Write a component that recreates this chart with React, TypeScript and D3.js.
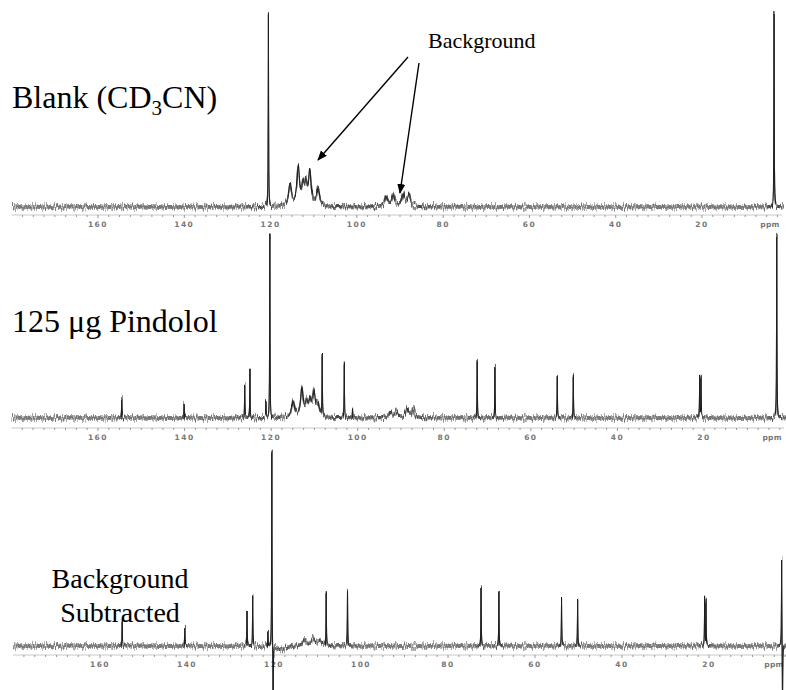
import { useEffect, useRef } from 'react';
import * as d3 from 'd3';

// [ppm, intensity, half width in ppm]
type Peak = [number, number, number];

const ppmLabels = [160, 140, 120, 100, 80, 60, 40, 20];

// Blank (CD3CN): solvent lines plus the probe background humps
const blankPeaks: Peak[] = [
    [120.5, 193, 0.05],
    [3.3, 193, 0.05],
    [115.5, 21, 0.4],
    [113.6, 38, 0.35],
    [112.5, 18, 0.35],
    [111.8, 19, 0.35],
    [110.9, 33, 0.35],
    [109.0, 18, 0.4],
    [93.2, 10, 0.4],
    [91.6, 12, 0.4],
    [89.3, 13, 0.4],
    [87.9, 12, 0.4],
];

// 125 ug Pindolol in CD3CN
const pindololPeaks: Peak[] = [
    [154.5, 19, 0.05],
    [140.1, 14, 0.05],
    [126.1, 32, 0.05],
    [124.9, 48, 0.05],
    [121.2, 14, 0.05],
    [120.3, 183, 0.05],
    [114.9, 16, 0.4],
    [112.9, 28, 0.35],
    [111.8, 13, 0.35],
    [111.0, 15, 0.35],
    [110.1, 23, 0.35],
    [109.2, 12, 0.4],
    [108.2, 60, 0.05],
    [103.1, 53, 0.05],
    [101.2, 9, 0.05],
    [92.4, 6, 0.4],
    [91.0, 6, 0.4],
    [88.6, 9, 0.4],
    [87.2, 9, 0.4],
    [72.4, 57, 0.05],
    [68.3, 50, 0.05],
    [53.9, 40, 0.05],
    [50.2, 42, 0.05],
    [21.0, 41, 0.05],
    [20.7, 38, 0.05],
    [3.2, 183, 0.05],
];

// Pindolol minus blank
const subtractedPeaks: Peak[] = [
    [154.9, 25, 0.05],
    [140.5, 18, 0.05],
    [126.2, 34, 0.05],
    [124.9, 49, 0.05],
    [121.4, 15, 0.05],
    [120.5, 198, 0.05],
    [120.2, -70, 0.05],
    [118.3, -4, 1.2],
    [113.0, 6, 0.5],
    [111.0, 7, 0.5],
    [109.5, 5, 0.5],
    [108.0, 53, 0.05],
    [103.1, 56, 0.05],
    [72.4, 58, 0.05],
    [68.3, 54, 0.05],
    [53.9, 46, 0.05],
    [50.2, 46, 0.05],
    [21.0, 47, 0.05],
    [20.7, 44, 0.05],
    [3.3, 90, 0.05],
    [3.1, -70, 0.05],
];

interface Panel {
    peaks: Peak[];
    xRange: [number, number]; // pixel position of 180 ppm and 0 ppm
    baseline: number;
    axisY: number;
    unitAt: number;
}

const panels: Panel[] = [
    { peaks: blankPeaks, xRange: [11.7, 788.3], baseline: 207, axisY: 215, unitAt: 6.5 },
    { peaks: pindololPeaks, xRange: [11.4, 790.6], baseline: 418, axisY: 428, unitAt: 6.5 },
    { peaks: subtractedPeaks, xRange: [13, 796], baseline: 646, axisY: 655, unitAt: 7.3 },
];

const serif = '"Liberation Serif", "Times New Roman", serif';
const noiseSeeds = [7, 23];

const App = () => {
    const svgRef = useRef<SVGSVGElement>(null);

    useEffect(() => {
        if (!svgRef.current) return;
        const svg = d3.select(svgRef.current);
        svg.selectAll('*').remove();

        const width = 786;
        const height = 690;
        svg.attr('width', width).attr('height', height);

        const defs = svg.append('defs');

        // jitter filters for the noisy baseline look
        noiseSeeds.forEach((seed, k) => {
            const filter = defs.append('filter')
                .attr('id', `noise${k}`)
                .attr('filterUnits', 'userSpaceOnUse')
                .attr('x', 0).attr('y', 0)
                .attr('width', width).attr('height', height)
                .attr('color-interpolation-filters', 'sRGB');
            filter.append('feTurbulence')
                .attr('type', 'fractalNoise')
                .attr('baseFrequency', '0.9 0')
                .attr('numOctaves', 2)
                .attr('seed', seed)
                .attr('result', 'turb');
            filter.append('feColorMatrix')
                .attr('in', 'turb')
                .attr('type', 'matrix')
                .attr('values', '0 0 0 0 0.5  0 1 0 0 0  0 0 0 0 0  0 0 0 0 1')
                .attr('result', 'map');
            filter.append('feDisplacementMap')
                .attr('in', 'SourceGraphic')
                .attr('in2', 'map')
                .attr('scale', 13)
                .attr('xChannelSelector', 'R')
                .attr('yChannelSelector', 'G')
                .attr('result', 'moved');
            filter.append('feMorphology')
                .attr('in', 'moved')
                .attr('operator', 'dilate')
                .attr('radius', '0 1');
        });

        defs.append('marker')
            .attr('id', 'arrow')
            .attr('viewBox', '0 0 10 10')
            .attr('refX', 9)
            .attr('refY', 5)
            .attr('markerWidth', 10)
            .attr('markerHeight', 10)
            .attr('markerUnits', 'userSpaceOnUse')
            .attr('orient', 'auto')
            .append('path')
            .attr('d', 'M0,1 L10,5 L0,9 Z')
            .attr('fill', '#000');

        panels.forEach((panel, i) => {
            const x = d3.scaleLinear().domain([180, 0]).range(panel.xRange);
            const y = d3.scaleLinear().domain([0, 200]).range([panel.baseline, panel.baseline - 200]);

            const g = svg.append('g').attr('class', `panel-${i}`);

            // axis line and ticks
            g.append('line')
                .attr('x1', x(180)).attr('x2', x(1.5))
                .attr('y1', panel.axisY).attr('y2', panel.axisY)
                .attr('stroke', '#c8c8c8')
                .attr('stroke-width', 1);

            g.selectAll('.minor')
                .data(d3.range(2.5, 180, 2.5))
                .join('line')
                .attr('x1', d => x(d)).attr('x2', d => x(d))
                .attr('y1', panel.axisY)
                .attr('y2', d => panel.axisY + (d % 20 === 0 ? 3 : 2))
                .attr('stroke', '#999')
                .attr('stroke-width', 1);

            g.selectAll('.label')
                .data(ppmLabels)
                .join('text')
                .attr('x', d => x(d))
                .attr('y', panel.axisY + 12)
                .attr('text-anchor', 'middle')
                .attr('font-family', 'DejaVu Sans')
                .attr('font-size', 7.5)
                .attr('font-weight', 'bold')
                .attr('letter-spacing', 1.5)
                .attr('fill', '#777')
                .text(d => String(d));

            g.append('text')
                .attr('x', x(panel.unitAt))
                .attr('y', panel.axisY + 12)
                .attr('font-family', 'DejaVu Sans')
                .attr('font-size', 7.5)
                .attr('font-weight', 'bold')
                .attr('letter-spacing', 0.3)
                .attr('fill', '#777')
                .text('ppm');

            // spectrum: Lorentzian lines at the listed shifts
            const grid = d3.range(1, 180, 0.05).concat(panel.peaks.map(p => p[0]));
            grid.sort((a, b) => b - a);
            const spectrum = grid.map(ppm => {
                const v = d3.sum(panel.peaks, ([c, h, w]) => (h * w * w) / ((ppm - c) * (ppm - c) + w * w));
                return [ppm, v] as [number, number];
            });

            const line = d3.line<[number, number]>()
                .x(d => x(d[0]))
                .y(d => y(d[1]));

            noiseSeeds.forEach((_, k) => {
                g.append('path')
                    .datum(spectrum)
                    .attr('d', line)
                    .attr('fill', 'none')
                    .attr('stroke', k === 0 ? '#000' : '#222')
                    .attr('stroke-width', 1)
                    .attr('opacity', k === 0 ? 0.9 : 0.7)
                    .attr('filter', `url(#noise${k})`);
            });
        });

        // panel titles
        const title = svg.append('g')
            .attr('font-family', serif)
            .attr('font-size', 32)
            .attr('fill', '#000');

        const blank = title.append('text').attr('x', 12).attr('y', 108);
        blank.append('tspan').text('Blank (CD');
        blank.append('tspan').attr('font-size', 21).attr('dy', 7).text('3');
        blank.append('tspan').attr('dy', -7).text('CN)');

        title.append('text').attr('x', 12).attr('y', 332).text('125 μg Pindolol');
        title.append('text').attr('x', 120).attr('y', 588).attr('font-size', 28)
            .attr('text-anchor', 'middle').text('Background');
        title.append('text').attr('x', 120).attr('y', 622).attr('font-size', 28)
            .attr('text-anchor', 'middle').text('Subtracted');

        // annotation
        svg.append('text')
            .attr('x', 428)
            .attr('y', 48)
            .attr('font-family', serif)
            .attr('font-size', 22)
            .text('Background');

        const arrows = [
            [408, 57, 318, 160],
            [419, 63, 400, 193],
        ];
        svg.selectAll('.arrow')
            .data(arrows)
            .join('line')
            .attr('x1', d => d[0]).attr('y1', d => d[1])
            .attr('x2', d => d[2]).attr('y2', d => d[3])
            .attr('stroke', '#000')
            .attr('stroke-width', 1.4)
            .attr('marker-end', 'url(#arrow)');
    }, []);

    return (
        <div style={{ position: 'absolute', left: 0, top: 0 }}>
            <svg ref={svgRef} style={{ display: 'block' }}></svg>
        </div>
    );
};

export default App;
